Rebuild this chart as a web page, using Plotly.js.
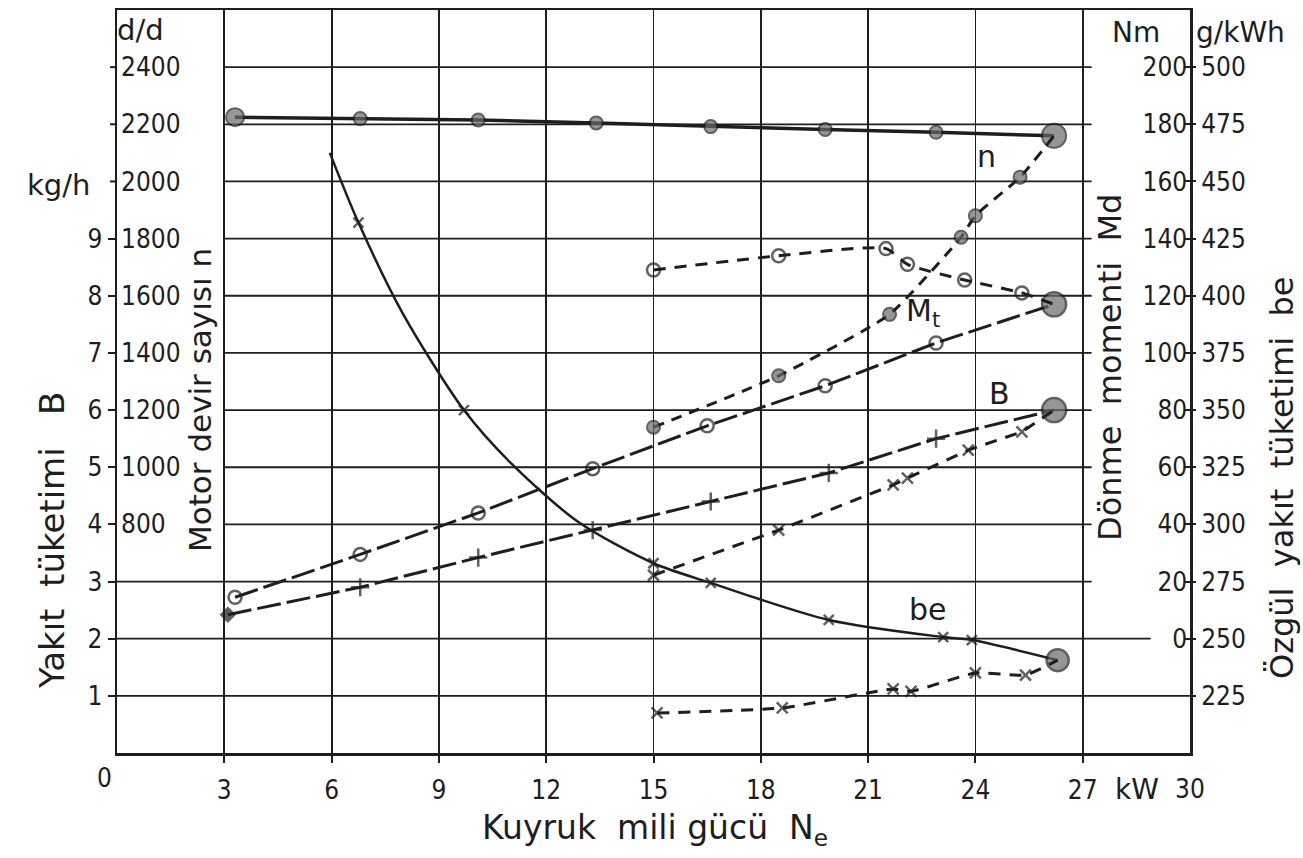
<!DOCTYPE html>
<html>
<head>
<meta charset="utf-8">
<script src="https://cdn.plot.ly/plotly-3.0.1.min.js"></script>
<style>
  html, body { margin: 0; padding: 0; background: #ffffff; }
  #chart { width: 1303px; height: 858px; }
</style>
</head>
<body>
<div id="chart"></div>
<script>
// ---- Data (x = Ne in kW) ----
// Engine speed n (d/d), full-load line (solid, filled dots)
const nFullX = [3.3, 6.8, 10.1, 13.4, 16.6, 19.8, 22.9, 26.2];
const nFullY = [2225, 2220, 2215, 2205, 2192, 2182, 2172, 2160];
// Engine speed n, dashed branch
const nPartX = [15.0, 18.5, 21.6, 23.6, 24.0, 25.25, 26.2];
const nPartY = [1140, 1320, 1535, 1805, 1880, 2015, 2160];
// Torque Md (Nm), rising dash line (open circles)
const mdFullX = [3.3, 6.8, 10.1, 13.3, 16.5, 19.8, 22.9, 26.2];
const mdFullY = [14.5, 29.5, 44, 59.5, 74.5, 88.5, 103.5, 117];
// Torque Md, dashed branch (open circles)
const mdPartX = [15.0, 18.5, 21.5, 22.1, 23.7, 25.3, 26.2];
const mdPartY = [129, 134, 136.5, 131, 125.5, 121, 117];
// Fuel consumption B (kg/h), long-dash line (+ marks)
const bFullX = [3.1, 6.8, 10.1, 13.3, 16.6, 19.9, 22.9, 26.2];
const bFullY = [2.42, 2.9, 3.42, 3.9, 4.4, 4.9, 5.5, 6.0];
// Fuel consumption B, dashed branch (x marks)
const bPartX = [15.0, 18.5, 21.7, 22.1, 23.8, 25.3, 26.2];
const bPartY = [3.11, 3.9, 4.69, 4.81, 5.3, 5.62, 6.0];
// Specific fuel consumption be (g/kWh), solid curve
const beFullX = [5.95, 6.75, 8.0, 9.7, 11.0, 12.9, 15.0, 16.6, 19.9, 23.1, 23.9, 26.3];
const beFullY = [462.5, 432, 392, 350, 327, 301, 283, 274.4, 258.2, 250.7, 249.4, 240.6];
// Specific fuel consumption be, dashed branch
const bePartX = [15.1, 18.6, 21.7, 22.2, 24.0, 25.4, 26.3];
const bePartY = [217.5, 219.7, 228, 227, 235, 234.1, 240.6];

// ---- Axis tick values / labels ----
const xTicks = [3, 6, 9, 12, 15, 18, 21, 24, 27];
const bTicks = [1, 2, 3, 4, 5, 6, 7, 8, 9];
const bExtraTicks = [10, 11, 12];
const nTicks = [800, 1000, 1200, 1400, 1600, 1800, 2000, 2200, 2400];
const mdTicks = [0, 20, 40, 60, 80, 100, 120, 140, 160, 180, 200];
const beTicks = [225, 250, 275, 300, 325, 350, 375, 400, 425, 450, 475, 500];
const gridFull = [1];
const gridNearFull = [2];
const gridLow = [3];
const gridHigh = [4, 5, 6, 7, 8, 9, 10, 11, 12];

const INK = '#1e1e1e';
const DOT = '#6a6a6a';
const TICKFONT = { family: "'DejaVu Sans Condensed', 'DejaVu Sans', sans-serif", size: 26, color: INK };
const TXT = "'DejaVu Sans', sans-serif";

function sizes(n, normal, overrides) {
  const a = new Array(n).fill(normal);
  Object.keys(overrides).forEach(k => { const i = k < 0 ? n + Number(k) : Number(k); a[i] = overrides[k]; });
  return a;
}
function fill(n, v, lastV) { const a = new Array(n).fill(v); if (lastV !== undefined) a[n - 1] = lastV; return a; }

const traces = [
  { // n full load
    x: nFullX, y: nFullY, yaxis: 'y2', type: 'scatter', mode: 'lines+markers',
    line: { color: INK, width: 3.5 },
    marker: { symbol: 'circle', color: DOT, size: sizes(nFullX.length, 13, { 0: 18, '-1': 24 }), line: { color: INK, width: 2 } },
    hoverinfo: 'skip'
  },
  { // n dashed branch
    x: nPartX, y: nPartY, yaxis: 'y2', type: 'scatter', mode: 'lines+markers',
    line: { color: INK, width: 3, dash: '11px,8px', shape: 'spline', smoothing: 0.5 },
    marker: { symbol: 'circle', color: DOT, size: sizes(nPartX.length, 13, { '-1': 0 }), line: { color: INK, width: 2 } },
    hoverinfo: 'skip'
  },
  { // Md full
    x: mdFullX, y: mdFullY, yaxis: 'y3', type: 'scatter', mode: 'lines+markers',
    line: { color: INK, width: 3, dash: '24px,6px' },
    marker: { symbol: fill(mdFullX.length, 'circle-open', 'circle'), color: fill(mdFullX.length, INK, DOT),
              size: sizes(mdFullX.length, 13, { '-1': 24 }), line: { color: INK, width: 2.5 } },
    hoverinfo: 'skip'
  },
  { // Md dashed branch
    x: mdPartX, y: mdPartY, yaxis: 'y3', type: 'scatter', mode: 'lines+markers',
    line: { color: INK, width: 3, dash: '12px,9px', shape: 'spline', smoothing: 0.6 },
    marker: { symbol: 'circle-open', color: INK, size: sizes(mdPartX.length, 13, { '-1': 0 }), line: { color: INK, width: 2.5 } },
    hoverinfo: 'skip'
  },
  { // B full
    x: bFullX, y: bFullY, yaxis: 'y', type: 'scatter', mode: 'lines+markers',
    line: { color: INK, width: 3, dash: '24px,6px' },
    marker: { symbol: ['diamond'].concat(fill(bFullX.length - 2, 'cross-thin-open'), ['circle']),
              color: [INK].concat(fill(bFullX.length - 2, INK), [DOT]),
              size: sizes(bFullX.length, 13, { 0: 10, '-1': 24 }), line: { color: INK, width: 2.5 } },
    hoverinfo: 'skip'
  },
  { // B dashed branch
    x: bPartX, y: bPartY, yaxis: 'y', type: 'scatter', mode: 'lines+markers',
    line: { color: INK, width: 3, dash: '12px,9px' },
    marker: { symbol: 'x-thin-open', color: INK, size: sizes(bPartX.length, 11, { '-1': 0 }), line: { color: INK, width: 2.5 } },
    hoverinfo: 'skip'
  },
  { // be full
    x: beFullX, y: beFullY, yaxis: 'y4', type: 'scatter', mode: 'lines+markers',
    line: { color: INK, width: 2.5, shape: 'spline', smoothing: 0.8 },
    marker: { symbol: fill(beFullX.length, 'x-thin-open', 'circle'), color: fill(beFullX.length, INK, DOT),
              size: [0, 10, 0, 10, 0, 0, 10, 10, 10, 10, 10, 22], line: { color: INK, width: 2.5 } },
    hoverinfo: 'skip'
  },
  { // be dashed branch
    x: bePartX, y: bePartY, yaxis: 'y4', type: 'scatter', mode: 'lines+markers',
    line: { color: INK, width: 3, dash: '12px,9px', shape: 'spline', smoothing: 0.5 },
    marker: { symbol: 'x-thin-open', color: INK, size: sizes(bePartX.length, 11, { '-1': 0 }), line: { color: INK, width: 2.5 } },
    hoverinfo: 'skip'
  }
];

// horizontal grid lines (drawn only where the reference draws them)
const shapes = [];
function hline(yv, x0, x1) {
  shapes.push({ type: 'line', xref: 'x', yref: 'y', x0: x0, x1: x1, y0: yv, y1: yv, line: { color: INK, width: 1.8 }, layer: 'below' });
}
gridFull.forEach(v => hline(v, 0, 30));
gridNearFull.forEach(v => hline(v, 0, 28.9));
gridLow.forEach(v => hline(v, 0, 27.25));
gridHigh.forEach(v => hline(v, 3, 27.25));
// unlabeled tick marks on the left frame (kg/h level and above)
bExtraTicks.forEach(v => shapes.push({ type: 'line', xref: 'paper', yref: 'y', x0: -0.0065, x1: 0, y0: v, y1: v, line: { color: INK, width: 2 } }));

function ann(text, x, y, opts) {
  return Object.assign({ text: text, xref: 'paper', yref: 'paper', x: x, y: y, showarrow: false,
    xanchor: 'center', yanchor: 'middle', font: { family: TXT, size: 30, color: INK } }, opts || {});
}
const NB = '\u00a0';
const annotations = [
  ann('Yakıt' + NB + NB + 'tüketimi' + NB + NB + NB + 'B', -0.0606, 0.2867, { textangle: -90, font: { family: TXT, size: 34, color: INK } }),
  ann('kg/h', -0.0233, 0.7645, { xanchor: 'right', font: { family: TXT, size: 29, color: INK } }),
  ann('d/d', -0.0019, 0.973, { xanchor: 'left', font: { family: TXT, size: 29, color: INK } }),
  ann('Motor' + NB + 'devir' + NB + 'sayısı' + NB + 'n', 0.0774, 0.4751, { textangle: -90, font: { family: TXT, size: 31, color: INK } }),
  ann('Dönme' + NB + NB + 'momenti' + NB + NB + 'Md', 0.9254, 0.5195, { textangle: -90, font: { family: TXT, size: 32, color: INK } }),
  ann('Özgül' + NB + NB + 'yakıt' + NB + NB + 'tüketimi' + NB + NB + 'be', 1.0857, 0.3701, { textangle: -90, font: { family: TXT, size: 32, color: INK } }),
  ann('Nm', 0.9497, 0.9691, { font: { family: TXT, size: 28, color: INK } }),
  ann('g/kWh', 1.0466, 0.9691, { font: { family: TXT, size: 28, color: INK } }),
  ann('0', -0.0121, -0.0336, { font: TICKFONT }),
  ann('kW', 0.9506, -0.0485, { font: { family: TXT, size: 28, color: INK } }),
  ann('30', 1.0, -0.0485, { font: TICKFONT }),
  ann('Kuyruk' + NB + NB + 'mili' + NB + 'gücü' + NB + NB + 'N<sub>e</sub>', 0.5014, -0.1036, { font: { family: TXT, size: 33, color: INK } }),
  ann('n', 0.8108, 0.8022, { font: { family: TXT, size: 30, color: INK } }),
  ann('M<sub>t</sub>', 0.7512, 0.5922, { font: { family: TXT, size: 30, color: INK } }),
  ann('B', 0.8229, 0.4845, { font: { family: TXT, size: 30, color: INK } }),
  ann('be', 0.7558, 0.1925, { font: { family: TXT, size: 30, color: INK } })
];

const layout = {
  width: 1303, height: 858,
  margin: { l: 117, r: 113, t: 10, b: 105, pad: 0 },
  paper_bgcolor: '#ffffff', plot_bgcolor: '#ffffff',
  showlegend: false,
  xaxis: {
    range: [0, 30], tickmode: 'array', tickvals: xTicks, ticktext: xTicks.map(String),
    ticks: 'outside', ticklen: 7, tickwidth: 2, tickcolor: INK, ticklabelstandoff: 5,
    showgrid: true, gridcolor: INK, gridwidth: 1.8, zeroline: false,
    showline: true, mirror: true, linecolor: INK, linewidth: 2.5, tickfont: TICKFONT, fixedrange: true
  },
  yaxis: {
    range: [0, 13], tickmode: 'array', tickvals: bTicks, ticktext: bTicks.map(String),
    ticks: 'outside', ticklen: 7, tickwidth: 2, tickcolor: INK,
    showgrid: false, zeroline: false, showline: true, mirror: true, linecolor: INK, linewidth: 2.5,
    tickfont: TICKFONT, fixedrange: true
  },
  yaxis2: {
    overlaying: 'y', anchor: 'free', position: 0, side: 'left', range: [0, 2600],
    tickmode: 'array', tickvals: nTicks, ticks: '', ticklabelposition: 'inside',
    showgrid: false, zeroline: false, showline: false, tickfont: TICKFONT, fixedrange: true
  },
  yaxis3: {
    overlaying: 'y', anchor: 'free', position: 1, side: 'right', range: [-40, 220],
    tickmode: 'array', tickvals: mdTicks, ticks: 'inside', ticklen: 5, tickwidth: 2, tickcolor: INK,
    ticklabelposition: 'inside', showgrid: false, zeroline: false, showline: false, tickfont: TICKFONT, fixedrange: true
  },
  yaxis4: {
    overlaying: 'y', anchor: 'free', position: 1, side: 'right', range: [200, 525],
    tickmode: 'array', tickvals: beTicks, ticks: 'outside', ticklen: 5, tickwidth: 2, tickcolor: INK,
    showgrid: false, zeroline: false, showline: false, tickfont: TICKFONT, fixedrange: true
  },
  shapes: shapes,
  annotations: annotations
};

Plotly.newPlot('chart', traces, layout, { displayModeBar: false, staticPlot: true });
</script>
</body>
</html>
